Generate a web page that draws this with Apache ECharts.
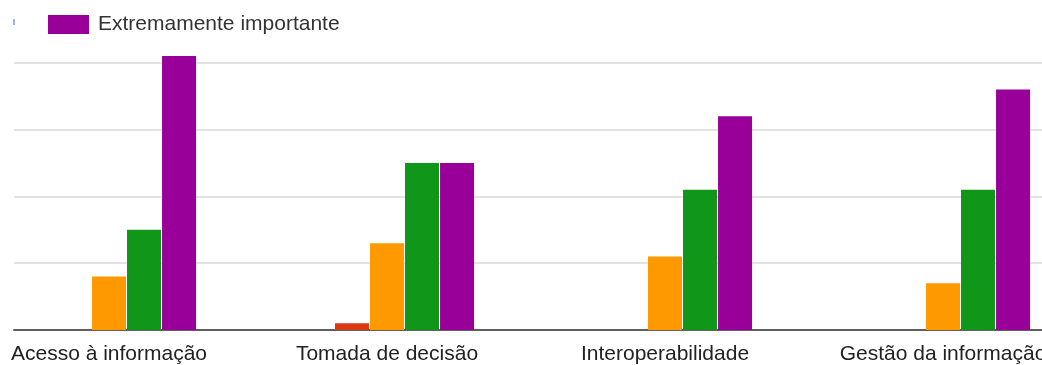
<!DOCTYPE html>
<html>
<head>
<meta charset="utf-8">
<script src="https://cdn.jsdelivr.net/npm/echarts@6/dist/echarts.min.js"></script>
<style>
  html, body { margin: 0; padding: 0; background: #ffffff; }
  #chart { width: 1042px; height: 365px; }
</style>
</head>
<body>
<div id="chart"></div>
<script>
// Categories and response counts per importance level
const categories = ['Acesso à informação', 'Tomada de decisão', 'Interoperabilidade', 'Gestão da informação'];
const nadaImportante = [0, 0, 0, 0];
const poucoImportante = [0, 1, 0, 0];
const moderadamenteImportante = [8, 13, 11, 7];
const muitoImportante = [15, 25, 21, 21];
const extremamenteImportante = [41, 25, 32, 36];

const yMax = 50;
const yStep = 10;

const font = '"Liberation Sans", Arial, sans-serif';

const chart = echarts.init(document.getElementById('chart'), null, { renderer: 'canvas' });

function barSeries(name, data, color) {
  return {
    name: name,
    type: 'bar',
    xAxisIndex: 1,
    yAxisIndex: 1,
    data: data,
    barWidth: 34,
    barGap: '3%',
    itemStyle: { color: color },
    emphasis: { disabled: true },
    animation: false
  };
}

chart.setOption({
  backgroundColor: '#ffffff',
  animation: false,
  legend: {
    data: ['Extremamente importante'],
    left: 43,
    top: 9,
    itemWidth: 41,
    itemHeight: 19,
    icon: 'rect',
    selectedMode: false,
    textStyle: { fontFamily: font, fontSize: 21, color: '#333333', padding: [0, 0, 0, 4] }
  },
  graphic: [
    { type: 'rect', left: 13, top: 19, shape: { width: 2, height: 6 }, style: { fill: '#9db4e4' } }
  ],
  grid: [
    // gridlines and baseline
    { left: 14, right: 0, top: -4, bottom: 35, outerBoundsMode: 'none' },
    // bar groups, wider than the visible area so the last label runs off the edge
    { left: -30, width: 1112, top: -4, bottom: 35, outerBoundsMode: 'none' }
  ],
  xAxis: [
    {
      gridIndex: 0,
      type: 'category',
      data: [''],
      axisLine: { show: true, lineStyle: { color: '#606060', width: 2 } },
      axisTick: { show: false },
      axisLabel: { show: false }
    },
    {
      gridIndex: 1,
      type: 'category',
      data: categories,
      axisLine: { show: false },
      axisTick: { show: false },
      axisLabel: {
        fontFamily: font,
        fontSize: 21,
        color: '#222222',
        margin: 14,
        interval: 0,
        hideOverlap: false
      }
    }
  ],
  yAxis: [
    {
      gridIndex: 0,
      type: 'value',
      min: 0,
      max: yMax,
      interval: yStep,
      axisLine: { show: false },
      axisTick: { show: false },
      axisLabel: { show: false },
      splitLine: { show: true, lineStyle: { color: '#e2e2e2', width: 2 } }
    },
    {
      gridIndex: 1,
      type: 'value',
      min: 0,
      max: yMax,
      interval: yStep,
      show: false,
      splitLine: { show: false }
    }
  ],
  series: [
    barSeries('Nada importante', nadaImportante, '#3366cc'),
    barSeries('Pouco importante', poucoImportante, '#dc3912'),
    barSeries('Moderadamente importante', moderadamenteImportante, '#ff9900'),
    barSeries('Muito importante', muitoImportante, '#109618'),
    barSeries('Extremamente importante', extremamenteImportante, '#990099')
  ]
});
</script>
</body>
</html>
